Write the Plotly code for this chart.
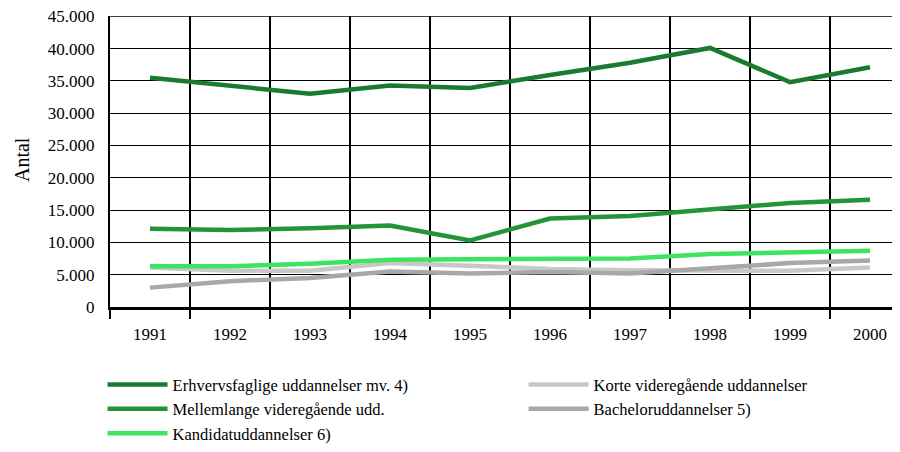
import plotly.graph_objects as go

years = ['1991', '1992', '1993', '1994', '1995', '1996', '1997', '1998', '1999', '2000']

erhvervsfaglige = [35500, 34300, 33000, 34300, 33900, 35900, 37800, 40100, 34800, 37100]
mellemlange = [12100, 11900, 12200, 12600, 10300, 13700, 14100, 15100, 16100, 16600]
korte = [6100, 5600, 5600, 6800, 6400, 5900, 5700, 5600, 5600, 6100]
bachelor = [3000, 4000, 4500, 5500, 5200, 5400, 5200, 6000, 6800, 7200]
kandidat = [6300, 6300, 6700, 7300, 7400, 7500, 7500, 8200, 8400, 8700]

y_ticks = list(range(0, 45001, 5000))
y_labels = [f"{v:,}".replace(",", ".") for v in y_ticks]

serif = 'Liberation Serif, DejaVu Serif, serif'

# drawing order (bottom to top), legend column, legend rank
series = [
    ('Korte videregående uddannelser', korte, '#c8c8c8', 'legend2', 1),
    ('Bacheloruddannelser 5)', bachelor, '#a7a7ac', 'legend2', 2),
    ('Kandidatuddannelser 6)', kandidat, '#3ee35f', 'legend', 3),
    ('Mellemlange videregående udd.', mellemlange, '#22953a', 'legend', 2),
    ('Erhvervsfaglige uddannelser mv. 4)', erhvervsfaglige, '#1a7a2d', 'legend', 1),
]

fig = go.Figure()
for name, vals, color, leg, rank in series:
    fig.add_trace(go.Scatter(
        x=years, y=vals, name=name, mode='lines',
        line=dict(color=color, width=4.5),
        legend=leg, legendrank=rank,
    ))

legend_common = dict(
    orientation='v', xref='container', yref='container',
    xanchor='left', yanchor='top', y=0.191,
    font=dict(family=serif, size=16.5), tracegroupgap=0,
    itemwidth=60, bgcolor='rgba(0,0,0,0)',
)

fig.update_layout(
    width=892, height=444,
    margin=dict(l=102, r=0, t=8, b=145, autoexpand=False),
    plot_bgcolor='white', paper_bgcolor='white',
    font=dict(family=serif, size=17, color='black'),
    showlegend=True,
    legend=dict(x=0.106, **legend_common),
    legend2=dict(x=0.578, **legend_common),
)

fig.update_xaxes(
    type='category', range=[-0.5, 9.375],
    tickson='boundaries', ticks='outside', ticklen=9, tickwidth=2, tickcolor='black',
    showgrid=True, gridcolor='black', gridwidth=2,
    showline=True, linecolor='black', linewidth=3,
    ticklabelstandoff=10,
)
fig.update_yaxes(
    range=[0, 45040], tickvals=y_ticks, ticktext=y_labels,
    showgrid=True, gridcolor='black', gridwidth=1,
    showline=True, linecolor='black', linewidth=2,
    zeroline=False, ticks='', ticklabelstandoff=10,
    ticklabeloverflow='allow',
)

# top gridline (45.000) sits on the plot edge
fig.add_hline(y=y_ticks[-1], line=dict(color='black', width=1), layer='below')

fig.add_annotation(
    text='Antal', textangle=-90, showarrow=False,
    xref='paper', yref='paper', x=(14 - 102) / 790, y=0.505,
    xanchor='center', yanchor='middle', font=dict(size=20),
)

fig.write_html("out.html")
